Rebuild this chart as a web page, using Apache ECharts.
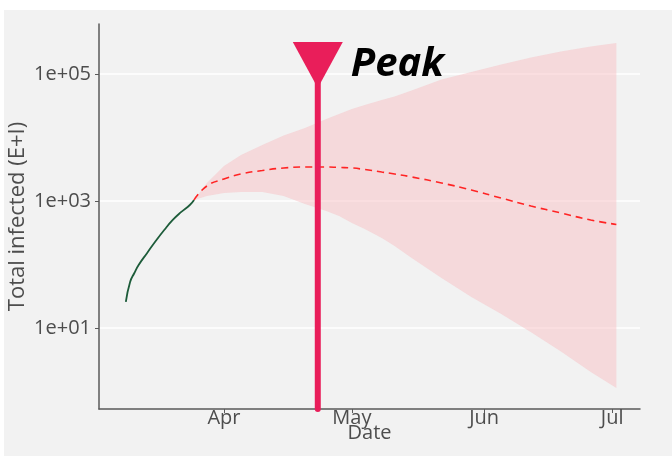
<!DOCTYPE html>
<html>
<head>
<meta charset="utf-8">
<script src="https://cdn.jsdelivr.net/npm/echarts@6/dist/echarts.min.js"></script>
<style>
  html, body { margin: 0; padding: 0; background: #fff; }
  #chart { width: 672px; height: 456px; }
</style>
</head>
<body>
<div id="chart"></div>
<script>
// observed (green) part
const observedDates = ['2020-03-09', '2020-03-10', '2020-03-11', '2020-03-12', '2020-03-14', '2020-03-16',
  '2020-03-18', '2020-03-20', '2020-03-22', '2020-03-24', '2020-03-25'];
const observed = [25.7, 53, 73.5, 98, 152, 234, 349, 502, 672, 865, 1037];

// projection + uncertainty band
const bandDates = ['2020-03-25', '2020-03-28', '2020-04-01', '2020-04-05', '2020-04-10', '2020-04-15',
  '2020-04-20', '2020-04-25', '2020-04-28', '2020-05-01', '2020-05-04', '2020-05-08', '2020-05-11',
  '2020-05-15', '2020-05-22', '2020-05-29', '2020-06-05', '2020-06-12', '2020-06-19', '2020-06-26', '2020-07-02'];
const projected = [1040, 1720, 2220, 2660, 3020, 3310, 3430, 3430, 3370, 3310, 3130, 2860, 2660,
  2390, 1920, 1490, 1110, 834, 647, 502, 427];
const upperBand = [1040, 1920, 3560, 5300, 7620, 10740, 14100, 19500, 23400, 28100, 32500, 39000, 44300,
  55000, 81800, 107000, 141000, 182000, 226000, 271000, 308000];
const lowerBand = [1040, 1200, 1340, 1390, 1390, 1200, 897, 696, 581, 451, 362, 261, 195,
  127, 61, 30.8, 16.6, 8.6, 4.27, 2.03, 1.13];

// peak marker
const peakDate = '2020-04-23';
const peakLineTop = 80000;
const peakMarkerValue = 138700;
const peakLabel = 'Peak';

// axes
const yTickValues = [10, 1000, 100000];
const yTickLabels = ['1e+01', '1e+03', '1e+05'];
const xTickDates = ['2020-04-01', '2020-05-01', '2020-06-01', '2020-07-01'];
const xTickLabels = ['Apr', 'May', 'Jun', 'Jul'];
const xMinDate = '2020-03-02 17:00';
const xMaxDate = '2020-07-07 13:00';
const yMin = 0.53;
const yMax = 612000;

const font = 'Open Sans';
const textGrey = '#4d4d4d';

function toTime(s) {
  return new Date(s.replace(/-/g, '/')).getTime();
}
const xTickValues = xTickDates.map(toTime);

const chart = echarts.init(document.getElementById('chart'), null, { renderer: 'canvas' });

const option = {
  backgroundColor: '#ffffff',
  animation: false,
  graphic: [{
    type: 'rect',
    z: -100,
    shape: { x: 4, y: 10, width: 668, height: 446 },
    style: { fill: '#f2f2f2' },
    silent: true
  }],
  grid: { left: 99, right: 32, top: 24, bottom: 47, outerBoundsMode: 'none', containLabel: false },
  xAxis: {
    type: 'value',
    min: toTime(xMinDate),
    max: toTime(xMaxDate),
    name: 'Date',
    nameLocation: 'middle',
    nameGap: 14,
    nameMoveOverlap: false,
    nameTextStyle: { fontFamily: font, fontSize: 20, color: textGrey },
    axisLine: { lineStyle: { color: '#5a5a5a', width: 1.5 } },
    axisTick: { show: true, customValues: xTickValues, length: 4, lineStyle: { color: '#5a5a5a' } },
    axisLabel: {
      customValues: xTickValues,
      margin: -1,
      fontFamily: font,
      fontSize: 20,
      color: textGrey,
      formatter: function (val) {
        const i = xTickValues.findIndex(v => Math.abs(v - val) < 3600000);
        return i >= 0 ? xTickLabels[i] : '';
      }
    },
    splitLine: { show: false }
  },
  yAxis: {
    type: 'log',
    logBase: 10,
    min: yMin,
    max: yMax,
    name: 'Total infected (E+I)',
    nameLocation: 'middle',
    nameGap: 70,
    nameMoveOverlap: false,
    nameTextStyle: { fontFamily: font, fontSize: 22, color: textGrey },
    axisLine: { show: true, lineStyle: { color: '#5a5a5a', width: 1.5 } },
    axisTick: { show: true, customValues: yTickValues, length: 4, lineStyle: { color: '#5a5a5a' } },
    axisLabel: {
      customValues: yTickValues,
      margin: 8,
      fontFamily: font,
      fontSize: 20,
      color: textGrey,
      formatter: function (val) {
        const i = yTickValues.findIndex(v => Math.abs(Math.log10(v) - Math.log10(val)) < 0.01);
        return i >= 0 ? yTickLabels[i] : '';
      }
    },
    splitLine: { show: true, lineStyle: { color: '#ffffff', width: 1.5 } }
  },
  series: [
    {
      // uncertainty band
      type: 'custom',
      z: 1,
      silent: true,
      data: [[toTime(bandDates[0]), upperBand[0]]],
      renderItem: function (params, api) {
        const pts = [];
        for (let i = 0; i < bandDates.length; i++) {
          pts.push(api.coord([toTime(bandDates[i]), upperBand[i]]));
        }
        for (let i = bandDates.length - 1; i >= 0; i--) {
          pts.push(api.coord([toTime(bandDates[i]), lowerBand[i]]));
        }
        return {
          type: 'polygon',
          shape: { points: pts },
          style: { fill: 'rgba(248, 192, 196, 0.5)' }
        };
      }
    },
    {
      type: 'line',
      z: 3,
      data: observedDates.map((d, i) => [toTime(d), observed[i]]),
      showSymbol: false,
      smooth: true,
      lineStyle: { color: '#1d5c3a', width: 1.8 }
    },
    {
      type: 'line',
      z: 3,
      data: bandDates.map((d, i) => [toTime(d), projected[i]]),
      showSymbol: false,
      smooth: true,
      lineStyle: { color: '#ff2424', width: 1.6, type: [7, 5] }
    },
    {
      // peak vertical bar
      type: 'line',
      z: 4,
      data: [[toTime(peakDate), yMin], [toTime(peakDate), peakLineTop]],
      showSymbol: false,
      lineStyle: { color: '#e91e5a', width: 6, cap: 'round' }
    },
    {
      type: 'scatter',
      z: 5,
      data: [[toTime(peakDate), peakMarkerValue]],
      symbol: 'triangle',
      symbolRotate: 180,
      symbolSize: [50, 46],
      itemStyle: { color: '#e91e5a', opacity: 1 },
      label: {
        show: true,
        position: 'right',
        distance: 8,
        formatter: peakLabel,
        fontFamily: font,
        fontSize: 40,
        fontWeight: 'bold',
        fontStyle: 'italic',
        color: '#000000'
      }
    }
  ]
};

chart.setOption(option);
</script>
</body>
</html>
